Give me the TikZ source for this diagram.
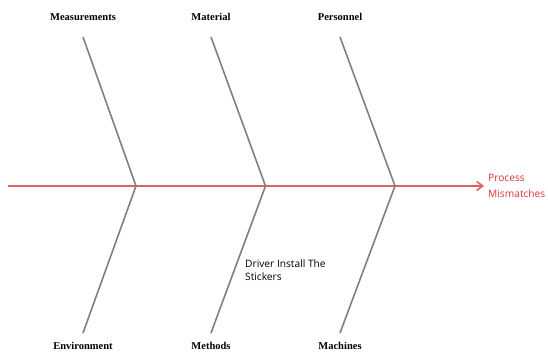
\documentclass[tikz,border=0pt]{standalone}
\usepackage{fontspec}
\setmainfont{Liberation Serif}
\newfontfamily\uifont{Open Sans}
\usetikzlibrary{arrows.meta,positioning}
\definecolor{spinered}{RGB}{228,96,96}
\definecolor{effectred}{RGB}{222,52,52}
\definecolor{ribgray}{RGB}{128,128,128}

\begin{document}
\begin{tikzpicture}[x=1pt,y=1pt,
    rib/.style={ribgray, line width=1.6pt},
    cat/.style={font=\bfseries\fontsize{10.5}{12}\selectfont, inner sep=0pt},
    note/.style={font=\uifont\fontsize{10.2}{13}\selectfont, align=left, inner sep=0pt}]
    \useasboundingbox (0,0) rectangle (548,352);

    % Spine and effect
    \coordinate (tail) at (8,166);
    \coordinate (head) at (484,166);
    \draw[spinered, line width=1.6pt, -{Straight Barb[length=6pt,width=9pt]}] (tail) -- (head);
    \node[note, effectred, anchor=west, font=\uifont\fontsize{10.2}{15.5}\selectfont] (effect) at (488,166) {Process\\Mismatches};

    % Bones and categories
    \foreach \n/\jx/\ex/\upname/\lowname in {1/136/83/Measurements/Environment,
            2/265.5/211/Material/Methods, 3/395/340/Personnel/Machines} {
        \coordinate (j\n) at (\jx,166);
        \coordinate (t\n) at (\ex,315);
        \coordinate (b\n) at (\ex,19);
        \draw[rib] (t\n) -- (j\n) -- (b\n);
        \node[cat] (up\n) at (\ex,335) {\upname};
        \node[cat] (low\n) at (\ex,6) {\lowname};
    }

    % Cause
    \node[note, anchor=north west] (cause) at (245,92.5) {Driver Install The\\Stickers};
\end{tikzpicture}
\end{document}
